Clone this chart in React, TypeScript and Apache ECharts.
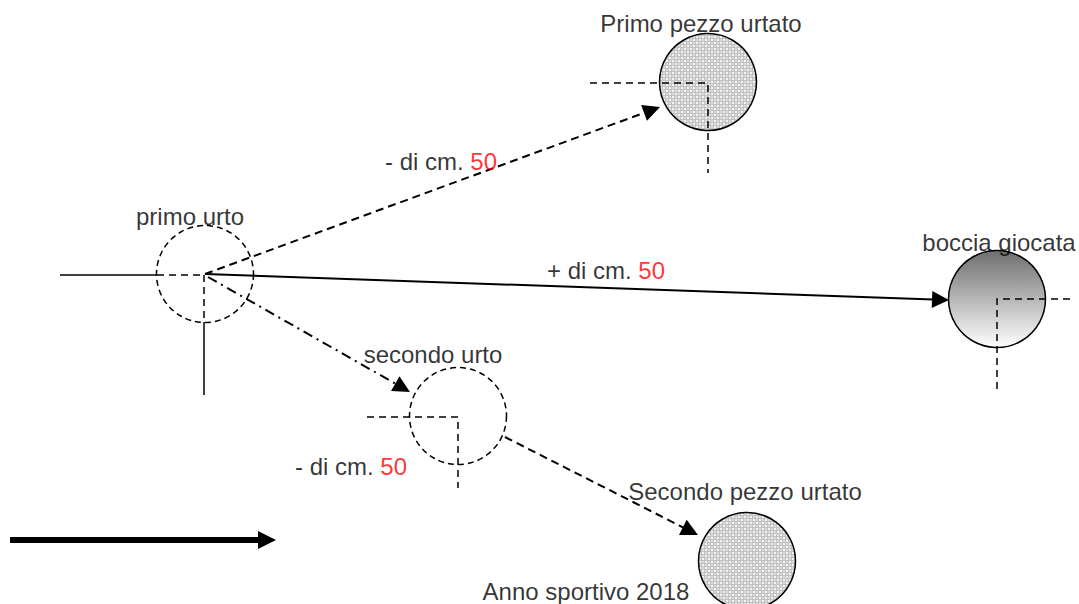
import React, { useEffect, useRef } from "react";
import * as echarts from "echarts";

// Balls: name, centre x, centre y
const ballNames = ["primo urto", "Primo pezzo urtato", "boccia giocata", "secondo urto", "Secondo pezzo urtato"];
const ballX = [205, 708, 997, 458, 747];
const ballY = [274, 82, 299, 416, 561];

// Text labels
const labelTexts = [
  "Primo pezzo urtato",
  "primo urto",
  "boccia giocata",
  "secondo urto",
  "Secondo pezzo urtato",
  "Anno sportivo 2018",
];
const labelX = [701, 190, 999, 433, 745, 586];
const labelY = [23, 216, 242, 354, 491, 591];

// Distance labels ("- di cm. 50" etc.)
const distPrefix = ["- di cm. ", "+ di cm. ", "- di cm. "];
const distValue = ["50", "50", "50"];
const distX = [441, 606, 351];
const distY = [161, 270, 466];

// Arrows: from -> tip
const arrowSolid = [[205, 274], [949, 300]];
const arrowDashedUp = [[205, 274], [660, 107]];
const arrowDashDot = [[208, 277], [410, 392]];
const arrowDashedDown = [[505, 437], [698, 535]];
const arrowBottom = [[10, 540], [276, 540]];

// Crosshair segments
const solidSegs = [
  [[60, 275], [157, 275]],
  [[204, 322], [204, 395]],
];
const dashedSegs = [
  [[157, 275], [204, 275]],
  [[204, 275], [204, 322]],
  [[590, 83], [708, 83], [708, 173]],
  [[1070, 299], [997, 299], [997, 390]],
  [[367, 417], [458, 417], [458, 488]],
];

function makePattern(): HTMLCanvasElement {
  const c = document.createElement("canvas");
  c.width = 6;
  c.height = 6;
  const ctx = c.getContext("2d")!;
  ctx.fillStyle = "#c2c2c2";
  ctx.fillRect(0, 0, 6, 6);
  ctx.fillStyle = "#f4f4f4";
  ctx.fillRect(0, 0, 2, 2);
  ctx.fillRect(3, 3, 2, 2);
  ctx.fillStyle = "#dcdcdc";
  ctx.fillRect(3, 0, 2, 2);
  ctx.fillRect(0, 3, 2, 2);
  return c;
}

// shorten the end of a segment so that a centred triangle's tip lands on the given point
function pullBack(coords: number[][], d: number): number[][] {
  const [a, b] = coords;
  const dx = b[0] - a[0];
  const dy = b[1] - a[1];
  const len = Math.hypot(dx, dy);
  return [a, [b[0] - (dx / len) * d, b[1] - (dy / len) * d]];
}

export default function App() {
  const ref = useRef<HTMLDivElement>(null);
  useEffect(() => {
    document.body.style.margin = "0";
    const chart = echarts.init(ref.current!, null, { renderer: "svg" });
    const pattern = { image: makePattern(), repeat: "repeat" };
    const font = "'Liberation Sans', Arial, sans-serif";
    const fs = 24;
    const gradient = new echarts.graphic.LinearGradient(0, 0, 0, 1, [
      { offset: 0, color: "#6e6e6e" },
      { offset: 1, color: "#ffffff" },
    ]);
    const ballStyles: any[] = [
      { fill: "none", stroke: "#000", lineWidth: 1.5, lineDash: [6, 4] },
      { fill: pattern, stroke: "#000", lineWidth: 1.5 },
      { fill: gradient, stroke: "#000", lineWidth: 1.5 },
      { fill: "none", stroke: "#000", lineWidth: 1.5, lineDash: [6, 4] },
      { fill: pattern, stroke: "#000", lineWidth: 1.5 },
    ];
    const arrowSeries = (coords: number[][], type: any, width: number, size: number[]) => ({
      type: "lines",
      coordinateSystem: "cartesian2d",
      silent: true,
      z: 4,
      symbol: ["none", "triangle"],
      symbolSize: size,
      lineStyle: { color: "#000", width, type, opacity: 1 },
      data: [{ coords: pullBack(coords, size[1] / 2) }],
    });
    chart.setOption({
      animation: false,
      grid: { left: 0, right: 0, top: 0, bottom: 0 },
      xAxis: { type: "value", min: 0, max: 1079, show: false },
      yAxis: { type: "value", min: 0, max: 604, inverse: true, show: false },
      series: [
        {
          type: "custom",
          z: 2,
          silent: true,
          data: ballNames.map((n, i) => ({ name: n, value: [ballX[i], ballY[i]] })),
          renderItem: (params: any, api: any) => {
            const p = api.coord([api.value(0), api.value(1)]);
            return {
              type: "circle",
              shape: { cx: p[0], cy: p[1], r: 48.5 },
              style: ballStyles[params.dataIndex],
            };
          },
        },
        {
          type: "lines",
          coordinateSystem: "cartesian2d",
          polyline: true,
          silent: true,
          z: 3,
          lineStyle: { color: "#000", width: 1.5, type: "solid", opacity: 1 },
          data: solidSegs.map((c) => ({ coords: c })),
        },
        {
          type: "lines",
          coordinateSystem: "cartesian2d",
          polyline: true,
          silent: true,
          z: 3,
          lineStyle: { color: "#000", width: 1.5, type: [7, 5], opacity: 1 },
          data: dashedSegs.map((c) => ({ coords: c })),
        },
        arrowSeries(arrowSolid, "solid", 2, [13, 17]),
        arrowSeries(arrowDashedUp, [8, 5], 2, [13, 17]),
        arrowSeries(arrowDashDot, [10, 5, 2, 5], 2, [13, 17]),
        arrowSeries(arrowDashedDown, [8, 5], 2, [13, 17]),
        arrowSeries(arrowBottom, "solid", 6, [17, 18]),
        {
          type: "scatter",
          symbolSize: 0,
          z: 5,
          silent: true,
          label: {
            show: true,
            position: "inside",
            formatter: "{b}",
            color: "#000",
            fontSize: fs,
            fontFamily: font,
          },
          data: labelTexts.map((t, i) => ({ name: t, value: [labelX[i], labelY[i]] })),
        },
        {
          type: "scatter",
          symbolSize: 0,
          z: 5,
          silent: true,
          label: {
            show: true,
            position: "inside",
            formatter: (p: any) => `{a|${distPrefix[p.dataIndex]}}{b|${distValue[p.dataIndex]}}`,
            rich: {
              a: { color: "#000", fontSize: fs, fontFamily: font },
              b: { color: "#ff0000", fontSize: fs, fontFamily: font },
            },
          },
          data: distPrefix.map((t, i) => ({ name: t, value: [distX[i], distY[i]] })),
        },
      ],
    });
    return () => chart.dispose();
  }, []);
  return (
    <div
      ref={ref}
      style={{ position: "absolute", left: 0, top: 0, width: 1079, height: 604, background: "#fff" }}
    />
  );
}
